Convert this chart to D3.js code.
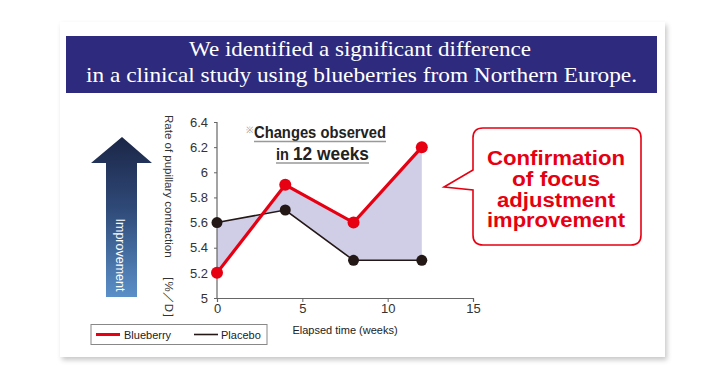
<!DOCTYPE html>
<html><head><meta charset="utf-8">
<script src="https://cdn.jsdelivr.net/npm/d3@7"></script>
<style>html,body{margin:0;padding:0;background:#fff;}svg{display:block;}</style>
</head><body>
<script>
const weeks = [0, 4, 8, 12];
const blueberry = [5.2, 5.9, 5.6, 6.2];
const placebo = [5.6, 5.7, 5.3, 5.3];
const xTicks = [0, 5, 10, 15];
const yTicks = [5, 5.2, 5.4, 5.6, 5.8, 6, 6.2, 6.4];
const yTickLabels = ["5", "5.2", "5.4", "5.6", "5.8", "6", "6.2", "6.4"];
const seriesNames = ["Blueberry", "Placebo"];
const titleLines = ["We identified a significant difference", "in a clinical study using blueberries from Northern Europe."];
const calloutLines = ["Confirmation", "of focus", "adjustment", "improvement"];

const W = 725, H = 380;
const svg = d3.select("body").append("svg").attr("width", W).attr("height", H);
const defs = svg.append("defs");
const f = defs.append("filter").attr("id", "sh").attr("x", "-5%").attr("y", "-5%").attr("width", "115%").attr("height", "120%");
f.append("feDropShadow").attr("dx", 2).attr("dy", 3).attr("stdDeviation", 2.5).attr("flood-color", "#000").attr("flood-opacity", 0.22);
const g = defs.append("linearGradient").attr("id", "ag").attr("x1", 0).attr("y1", 0).attr("x2", 0).attr("y2", 1);
g.append("stop").attr("offset", "0%").attr("stop-color", "#1b2647");
g.append("stop").attr("offset", "45%").attr("stop-color", "#2f4a78");
g.append("stop").attr("offset", "100%").attr("stop-color", "#5b8fc8");

// card
svg.append("rect").attr("x", 60).attr("y", 22).attr("width", 605).attr("height", 335).attr("fill", "#fff").attr("filter", "url(#sh)");

// banner
svg.append("rect").attr("x", 66).attr("y", 36).attr("width", 591).attr("height", 57).attr("fill", "#2e2a7e");
const tl = svg.append("g").attr("font-family", "'Liberation Serif','DejaVu Serif',serif").attr("fill", "#fff").attr("font-size", 21).attr("text-anchor", "middle");
tl.append("text").attr("x", 360).attr("y", 56).attr("textLength", 342).attr("lengthAdjust", "spacingAndGlyphs").text(titleLines[0]);
tl.append("text").attr("x", 361.5).attr("y", 82).attr("textLength", 551).attr("lengthAdjust", "spacingAndGlyphs").text(titleLines[1]);

// scales
const x = d3.scaleLinear().domain([0, 15]).range([217, 473]);
const y = d3.scaleLinear().domain([5, 6.4]).range([298, 122]);

// area between
const poly = weeks.map((w, i) => [x(w), y(blueberry[i])]).concat(weeks.map((w, i) => [x(w), y(placebo[i])]).reverse());
svg.append("path").attr("d", "M" + poly.map(p => p.join(",")).join("L") + "Z").attr("fill", "#d0cde7");

// axes
const font = "'Liberation Sans',Arial,sans-serif";
const xAxis = svg.append("g").attr("transform", "translate(0,298)")
  .call(d3.axisBottom(x).tickValues(xTicks).tickSize(4).tickPadding(2).tickFormat(d3.format("d")));
const yAxis = svg.append("g").attr("transform", "translate(217,0)")
  .call(d3.axisLeft(y).tickValues(yTicks).tickSize(3).tickPadding(6).tickFormat((d, i) => yTickLabels[i]));
[xAxis, yAxis].forEach(a => {
  a.select(".domain").attr("stroke", "#666").attr("stroke-width", 1.2);
  a.selectAll(".tick line").attr("stroke", "#666");
  a.selectAll("text").attr("font-family", font).attr("font-size", 13).attr("fill", "#333");
});
yAxis.select(".domain").attr("d", "M0,298V122");

// lines
const line = d3.line().x((d, i) => x(weeks[i])).y(d => y(d));
svg.append("path").attr("d", line(placebo)).attr("fill", "none").attr("stroke", "#231815").attr("stroke-width", 1.6);
svg.append("path").attr("d", line(blueberry)).attr("fill", "none").attr("stroke", "#e60012").attr("stroke-width", 3.2);
svg.selectAll(".pp").data(placebo).enter().append("circle").attr("cx", (d, i) => x(weeks[i])).attr("cy", d => y(d)).attr("r", 5.5).attr("fill", "#231815");
svg.selectAll(".bp").data(blueberry).enter().append("circle").attr("cx", (d, i) => x(weeks[i])).attr("cy", d => y(d)).attr("r", 6).attr("fill", "#e60012");

// axis titles
svg.append("text").attr("transform", "translate(165,115) rotate(90)").attr("font-family", font).attr("font-size", 11.5).attr("fill", "#333")
  .text("Rate of pupillary contraction\u3000\uFF3B%\uFF0FD\uFF3D");
svg.append("text").attr("x", 345).attr("y", 334).attr("text-anchor", "middle").attr("font-family", font).attr("font-size", 11).attr("fill", "#222").text("Elapsed time (weeks)");

// annotation
svg.append("text").attr("x", 246).attr("y", 133).attr("font-family", font).attr("font-size", 9).attr("fill", "#999").text("\u203B");
svg.append("text").attr("x", 254).attr("y", 138).attr("font-family", font).attr("font-weight", "bold").attr("font-size", 17).attr("fill", "#222")
  .attr("textLength", 132).attr("lengthAdjust", "spacingAndGlyphs").text("Changes observed");
svg.append("line").attr("x1", 254).attr("x2", 386).attr("y1", 141.5).attr("y2", 141.5).attr("stroke", "#999").attr("stroke-width", 1.5);
const t2 = svg.append("text").attr("x", 276).attr("y", 160).attr("font-family", font).attr("font-weight", "bold").attr("fill", "#222")
  .attr("textLength", 93).attr("lengthAdjust", "spacingAndGlyphs");
t2.append("tspan").attr("font-size", 16).text("in ");
t2.append("tspan").attr("font-size", 19).text("12 weeks");
svg.append("line").attr("x1", 276).attr("x2", 369).attr("y1", 163).attr("y2", 163).attr("stroke", "#999").attr("stroke-width", 1.5);

// arrow
svg.append("path").attr("d", "M122,137 L152,163 L137,163 L137,297 L106,297 L106,163 L91,163 Z").attr("fill", "url(#ag)");
svg.append("text").attr("transform", "translate(116,255) rotate(90)").attr("text-anchor", "middle").attr("font-family", font).attr("font-size", 12.5).attr("fill", "#fff").text("Improvement");

// callout
const r = 10, L = 473, T = 128, R = 641, B = 245;
svg.append("path").attr("d",
  `M${L + r},${T} H${R - r} Q${R},${T} ${R},${T + r} V${B - r} Q${R},${B} ${R - r},${B} H${L + r} Q${L},${B} ${L},${B - r} V190 L444,187 L${L},170 V${T + r} Q${L},${T} ${L + r},${T} Z`)
  .attr("fill", "#fff").attr("stroke", "#e60012").attr("stroke-width", 1.6);
const ct = svg.append("g").attr("font-family", font).attr("font-weight", "bold").attr("font-size", 19.5).attr("fill", "#e60012").attr("text-anchor", "middle");
const cy = [165, 185.8, 206.5, 227.2];
const cw = [138, 88, 118, 138];
calloutLines.forEach((s, i) => ct.append("text").attr("x", 556).attr("y", cy[i]).attr("textLength", cw[i]).attr("lengthAdjust", "spacingAndGlyphs").text(s));

// legend
svg.append("rect").attr("x", 91).attr("y", 324.5).attr("width", 176).attr("height", 20).attr("fill", "#fff").attr("stroke", "#888").attr("stroke-width", 1);
svg.append("line").attr("x1", 96).attr("x2", 120).attr("y1", 334.5).attr("y2", 334.5).attr("stroke", "#e60012").attr("stroke-width", 3);
svg.append("text").attr("x", 124).attr("y", 338.5).attr("font-family", font).attr("font-size", 11).attr("fill", "#222").text(seriesNames[0]);
svg.append("line").attr("x1", 194).attr("x2", 218).attr("y1", 334.5).attr("y2", 334.5).attr("stroke", "#231815").attr("stroke-width", 1.6);
svg.append("text").attr("x", 221).attr("y", 338.5).attr("font-family", font).attr("font-size", 11).attr("fill", "#222").text(seriesNames[1]);
</script>
</body></html>
